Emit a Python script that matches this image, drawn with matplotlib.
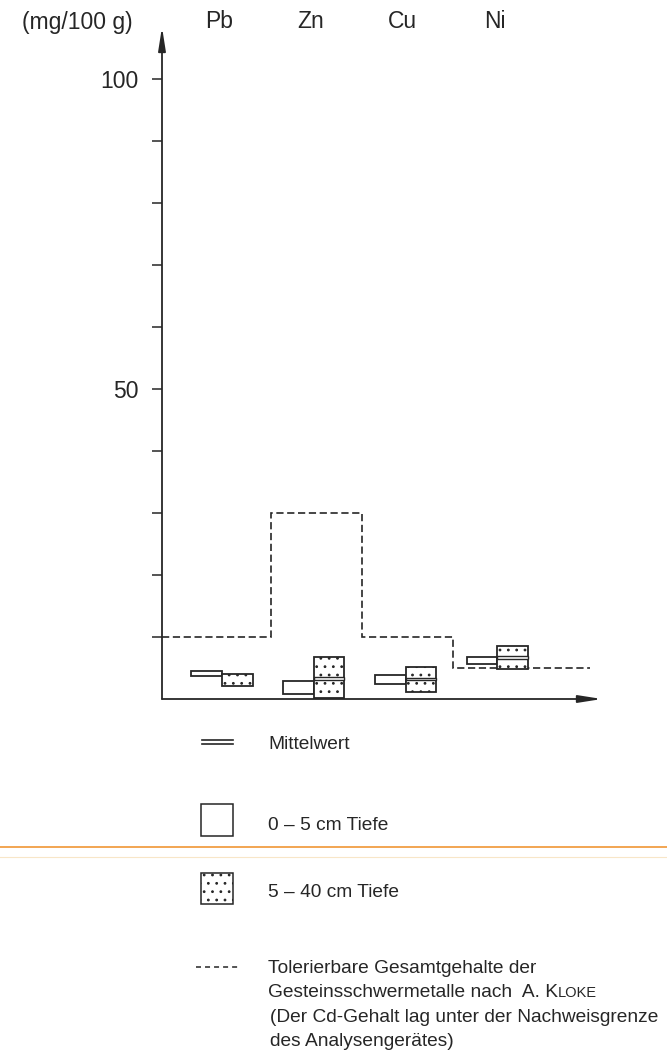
import numpy as np
import matplotlib.pyplot as plt
from matplotlib.patches import Rectangle

plt.rcParams['font.family'] = ['Liberation Sans', 'DejaVu Sans']
plt.rcParams['lines.scale_dashes'] = False
plt.rcParams['hatch.linewidth'] = 0.8

# Schwermetallgehalte (mg/100 g)
elements = ['Pb', 'Zn', 'Cu', 'Ni']
# 0-5 cm Tiefe: Spannweite
top_lo = [3.7, 0.8, 2.5, 5.7]
top_hi = [4.5, 2.9, 3.9, 6.8]
# 5-40 cm Tiefe: Spannweite und Mittelwert
sub_lo = [2.1, 0.1, 1.2, 4.9]
sub_hi = [4.1, 6.8, 5.2, 8.5]
sub_mean = [np.nan, 3.3, 3.2, 6.7]
# tolerierbare Gesamtgehalte nach Kloke
kloke = [10, 30, 10, 5]

y_ticks = list(range(10, 101, 10))
y_ticklabels = [str(t) if t in (50, 100) else '' for t in y_ticks]

W, H = 667, 1050
ink = '#262626'

fig = plt.figure(figsize=(W / 100, H / 100), dpi=100)

# Diagramm: y-Achse bei 162 px, 0 bei 699 px, 100 bei 79 px
ax = fig.add_axes([162 / W, 1 - 699 / H, (602 - 162) / W, 620 / H])
ax.set_xlim(-0.654, 4.14)
ax.set_ylim(0, 100)
for s in ax.spines.values():
    s.set_visible(False)
ax.patch.set_visible(False)

ax.set_xticks([])
ax.set_yticks(y_ticks, y_ticklabels)
ax.tick_params(axis='y', direction='out', length=7, width=1.1, color=ink,
               pad=10, labelsize=16.5, labelcolor=ink)

arrow = dict(arrowstyle='-|>,head_length=1.4,head_width=0.22', color=ink,
             lw=1.3, shrinkA=0, shrinkB=0, mutation_scale=10)
ax.annotate('', xy=(0, (699 - 27) / 620), xytext=(0, 0),
            xycoords='axes fraction', arrowprops=arrow, annotation_clip=False)
ax.annotate('', xy=(1, 0), xytext=(0, 0),
            xycoords='axes fraction', arrowprops=arrow, annotation_clip=False)

# Stufenlinie der tolerierbaren Gehalte
edges = [ax.get_xlim()[0], 0.53, 1.53, 2.52, 4.01]
ax.stairs(kloke, edges, baseline=None, color=ink, lw=1.2,
          linestyle=(0, (5.2, 2.6)), zorder=1)

x = np.arange(len(elements))
bw = 0.333
for i in x:
    ax.add_patch(Rectangle((i - bw, top_lo[i]), bw, top_hi[i] - top_lo[i],
                           fc='white', ec=ink, lw=1.3, zorder=3))
    ax.add_patch(Rectangle((i, sub_lo[i]), bw, sub_hi[i] - sub_lo[i],
                           fc='white', ec=ink, lw=1.3, hatch='..', zorder=3))
    if not np.isnan(sub_mean[i]):
        ax.add_patch(Rectangle((i, sub_mean[i] - 0.2), bw, 0.4,
                               fc='white', ec=ink, lw=1.0, zorder=4))

for i, name in zip(x, elements):
    ax.text(i - 0.03, (699 - 28.5) / 620, name, transform=ax.get_xaxis_transform(),
            ha='center', va='baseline', fontsize=16.5, color=ink)

# Legende in Pixelkoordinaten
lax = fig.add_axes([0, 0, 1, 1])
lax.set_xlim(0, W)
lax.set_ylim(H, 0)
lax.axis('off')

lax.text(77.5, 29, '(mg/100 g)', ha='center', va='baseline',
         fontsize=16.5, color=ink)

# Randlinien des Druckbogens
lax.plot([0, W], [847, 847], color='#f2a552', lw=1.4)
lax.plot([0, W], [857, 857], color='#f8e6c8', lw=0.8)

leg = dict(va='baseline', fontsize=13.8, color=ink)
lax.plot([202, 233], [739.5, 739.5], color=ink, lw=1.2)
lax.plot([202, 233], [744.3, 744.3], color=ink, lw=1.2)
lax.text(268, 749.3, 'Mittelwert', **leg)

lax.add_patch(Rectangle((201, 804), 31.5, 32, fc='white', ec=ink, lw=1.1))
lax.text(268, 830, '0 – 5 cm Tiefe', **leg)

lax.add_patch(Rectangle((201, 873), 31.5, 31, fc='white', ec=ink, lw=1.1,
                        hatch='..'))
lax.text(268, 897.3, '5 – 40 cm Tiefe', **leg)

lax.plot([196, 240], [966.7, 966.7], color=ink, lw=1.1,
         linestyle=(0, (3.6, 2.9)))
lax.text(268, 972.7, 'Tolerierbare Gesamtgehalte der', **leg)
t2 = lax.text(268, 997.2, 'Gesteinsschwermetalle nach  A. K', **leg)
lax.annotate('LOKE', xy=(1, 997.2), xycoords=(t2, 'data'),
             va='baseline', ha='left', fontsize=10.5, color=ink)
lax.text(270, 1021.6, '(Der Cd-Gehalt lag unter der Nachweisgrenze', **leg)
lax.text(270, 1045.5, 'des Analysengerätes)', **leg)

fig.savefig('out.png', dpi=100, facecolor='white')
